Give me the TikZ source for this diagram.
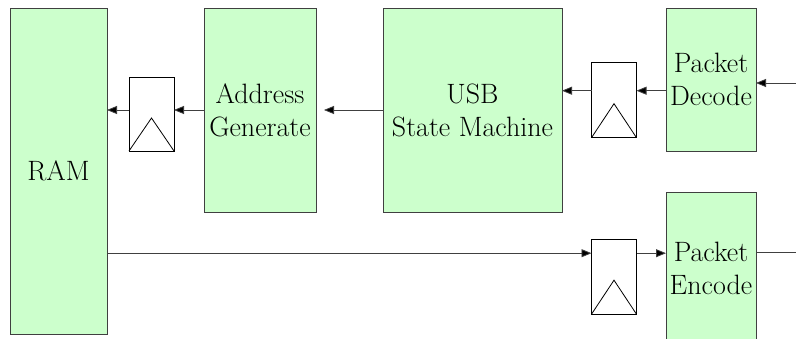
\documentclass[tikz,border=0pt]{standalone}
\usepackage{fontspec}
\usetikzlibrary{arrows.meta,calc}
\definecolor{blockgreen}{HTML}{CCFFCC}
\definecolor{edgegray}{HTML}{404040}
\tikzset{
  block/.style={draw=edgegray, fill=blockgreen, line width=0.9pt, inner sep=0pt, outer sep=0pt,
    align=center, font=\rmfamily\fontsize{28}{33}\selectfont\addfontfeatures{LetterSpace=3.5}},
  flop/.style={draw=black, fill=white, line width=0.8pt, inner sep=0pt, outer sep=0pt,
    minimum width=45pt, minimum height=75pt},
  wire/.style={draw=edgegray, line width=0.8pt},
  arr/.style={wire, -{Triangle[length=10pt,width=8pt,fill=black]}},
}
\newcommand{\clocktri}[1]{\draw[line width=0.8pt] (#1.south west) -- ($(#1.north)+(0,41)$) -- (#1.south east);}
\begin{document}
\begin{tikzpicture}[x=1pt,y=-1pt]
\useasboundingbox (0,0) rectangle (796,339);
\clip (0,0) rectangle (796,339);
\fill[white] (0,0) rectangle (796,339);
% blocks
\node[block, minimum width=97pt, minimum height=326pt] (ram) at (58.5,171) {RAM};
\node[block, minimum width=112pt, minimum height=204pt] (addr) at (260,110) {Address\\Generate};
\node[block, minimum width=179pt, minimum height=204pt] (usb) at (472.5,110) {USB\\State Machine};
\node[block, minimum width=90pt, minimum height=143pt] (dec) at (711,79.5) {Packet\\Decode};
\node[block, minimum width=90pt, minimum height=152pt] (enc) at (711,268) {Packet\\Encode};
% flip-flops
\node[flop, minimum height=74pt] (ff1) at (151.5,114) {};
\node[flop] (ff2) at (614,100.2) {};
\node[flop] (ff3) at (614,276.7) {};
\clocktri{ff1}
\clocktri{ff2}
\clocktri{ff3}
% external ends
\coordinate (inp) at (796,83);
\coordinate (outp) at (796,252.5);
% connectors
\draw[arr] (addr.west) -- (ff1.east |- addr.west);
\draw[arr] (ff1.west |- addr.west) -- (ram.east |- addr.west);
\draw[arr] (usb.west) -- ($(addr.east)+(8,0)$);
\draw[arr] ($(dec.west)+(0,11.2)$) -- (ff2.east |- {$(dec.west)+(0,11.2)$});
\draw[arr] (ff2.west |- {$(dec.west)+(0,11.2)$}) -- (usb.east |- {$(dec.west)+(0,11.2)$});
\draw[arr] (inp) -- (dec.east |- inp);
\draw[arr] (ram.east |- {$(ff3.north)+(0,14)$}) -- (ff3.west |- {$(ff3.north)+(0,14)$});
\draw[arr] (ff3.east |- {$(ff3.north)+(0,14)$}) -- (enc.west |- {$(ff3.north)+(0,14)$});
\draw[wire] (enc.east |- outp) -- (outp);
\end{tikzpicture}
\end{document}
